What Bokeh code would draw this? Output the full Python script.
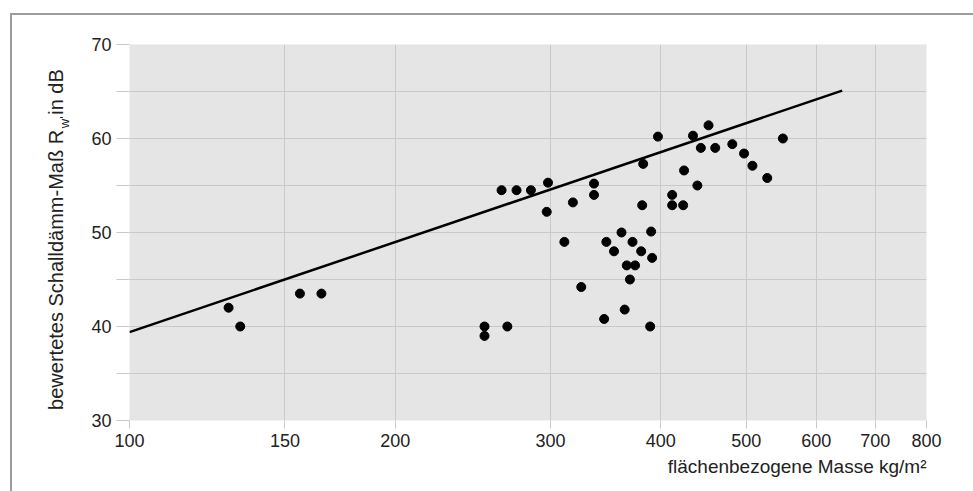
import math
from bokeh.plotting import figure
from bokeh.layouts import row
from bokeh.models import FixedTicker, NumeralTickFormatter, Range1d, ColumnDataSource, Title
from bokeh.core.properties import value
from bokeh.embed import file_html
from bokeh.resources import INLINE

# ---- data ----
mass = [129.5, 133.5, 156, 165, 252.5, 252.5, 268, 264, 274.5, 285, 298, 297,
        311, 318, 325, 336, 336, 345, 347, 354, 361, 364, 366, 369, 371.5, 374,
        380, 381, 382, 389, 390, 391, 397, 412, 412, 424, 425, 435, 440, 444,
        453, 461, 482, 497, 508, 528, 550]
rw = [42.0, 40.0, 43.5, 43.5, 40.0, 39.0, 40.0, 54.5, 54.5, 54.5, 55.3, 52.2,
      49.0, 53.2, 44.2, 55.2, 54.0, 40.8, 49.0, 48.0, 50.0, 41.8, 46.5, 45.0,
      49.0, 46.5, 48.0, 52.9, 57.3, 40.0, 50.1, 47.3, 60.2, 54.0, 52.9, 52.9,
      56.6, 60.3, 55.0, 59.0, 61.4, 59.0, 59.4, 58.4, 57.1, 55.8, 60.0]
trend_mass = [100, 642]
trend_rw = [39.4, 65.1]

x_ticks = [100, 150, 200, 300, 400, 500, 600, 700, 800]
y_ticks = [30, 35, 40, 45, 50, 55, 60, 65, 70]
y_hidden = [35, 45, 55, 65]

x_label = "flächenbezogene Masse kg/m²"
y_label_parts = ["bewertetes Schalldämm-Maß R", "w'", "in dB"]

# ---- layout geometry (page pixels) ----
PAGE_W, PAGE_H = 973, 491
OFF_X, OFF_Y = 12, 15          # canvas origin inside the grey outer frame
SPLIT = 80                     # page x where the main figure starts
FL, FR, FT, FB = 129, 926, 44, 420
X0, X1, Y0, Y1 = 100, 800, 30, 70
H = PAGE_H - OFF_Y
FONT = "Liberation Sans"
TXT = "#222222"

# ---- y-axis title panel (real text, with subscript) ----
LW = SPLIT - OFF_X
lp = figure(width=LW, height=H, x_range=Range1d(0, LW), y_range=Range1d(0, H),
            output_backend="svg", toolbar_location=None,
            x_axis_location=None, y_axis_location=None,
            min_border=0, outline_line_color=None)
lp.grid.visible = False
lp.background_fill_color = "white"
lp.border_fill_color = "white"

def lx(px):
    return px - OFF_X

def ly(py):
    return H - (py - OFF_Y)

BASE = 55
lp.text(x=[lx(BASE)], y=[ly(123)], text=[y_label_parts[0]], angle=math.pi / 2,
        text_align="right", text_baseline="alphabetic", text_font=value(FONT),
        text_font_size=value("20px"), text_color=TXT)
lp.text(x=[lx(BASE + 9)], y=[ly(121)], text=[y_label_parts[1]], angle=math.pi / 2,
        text_align="left", text_baseline="alphabetic", text_font=value(FONT),
        text_font_size=value("13px"), text_color=TXT)
lp.text(x=[lx(BASE)], y=[ly(104)], text=[y_label_parts[2]], angle=math.pi / 2,
        text_align="left", text_baseline="alphabetic", text_font=value(FONT),
        text_font_size=value("20px"), text_color=TXT)

# ---- main chart ----
p = figure(width=PAGE_W - SPLIT, height=H,
           x_axis_type="log", x_range=Range1d(X0, X1), y_range=Range1d(Y0, Y1),
           output_backend="svg", toolbar_location=None,
           min_border_left=FL - SPLIT, min_border_right=PAGE_W - FR,
           min_border_top=FT - OFF_Y, min_border_bottom=PAGE_H - FB)
p.background_fill_color = "#e5e5e5"
p.border_fill_color = "white"
p.outline_line_color = None

xt = FixedTicker(ticks=x_ticks, minor_ticks=[])
yt = FixedTicker(ticks=y_ticks, minor_ticks=[])
p.xaxis.ticker = xt
p.xgrid.ticker = xt
p.yaxis.ticker = yt
p.ygrid.ticker = yt
p.xaxis.formatter = NumeralTickFormatter(format="0")
p.yaxis.major_label_overrides = {v: "" for v in y_hidden}

p.grid.grid_line_color = "#c9c9c9"
p.grid.grid_line_width = 1
for ax in (p.xaxis, p.yaxis):
    ax.axis_line_color = None
    ax.major_tick_line_color = "#c9c9c9"
    ax.minor_tick_line_color = None
    ax.major_tick_in = 0
    ax.major_label_text_font = FONT
    ax.major_label_text_font_size = "18px"
    ax.major_label_text_color = TXT
p.yaxis.major_tick_out = 13
p.yaxis.major_label_standoff = 5
p.xaxis.major_tick_out = 8
p.xaxis.major_label_standoff = 5

src = ColumnDataSource(dict(mass=mass, rw=rw))
p.line(trend_mass, trend_rw, line_width=2.5, line_color="black")
p.scatter("mass", "rw", source=src, size=9, fill_color="black", line_color="black")

p.add_layout(Title(text=x_label, align="right", text_font=FONT, text_font_size="19px",
                   text_font_style="normal", text_color=TXT, standoff=9), "below")

layout = row(lp, p, spacing=0)
layout.margin = (OFF_Y - 2, 0, 0, OFF_X - 2)
layout.styles = {"border-top": "2px solid #9c9c9c", "border-left": "2px solid #9c9c9c"}

open("out.html", "w").write(file_html(layout, INLINE))
